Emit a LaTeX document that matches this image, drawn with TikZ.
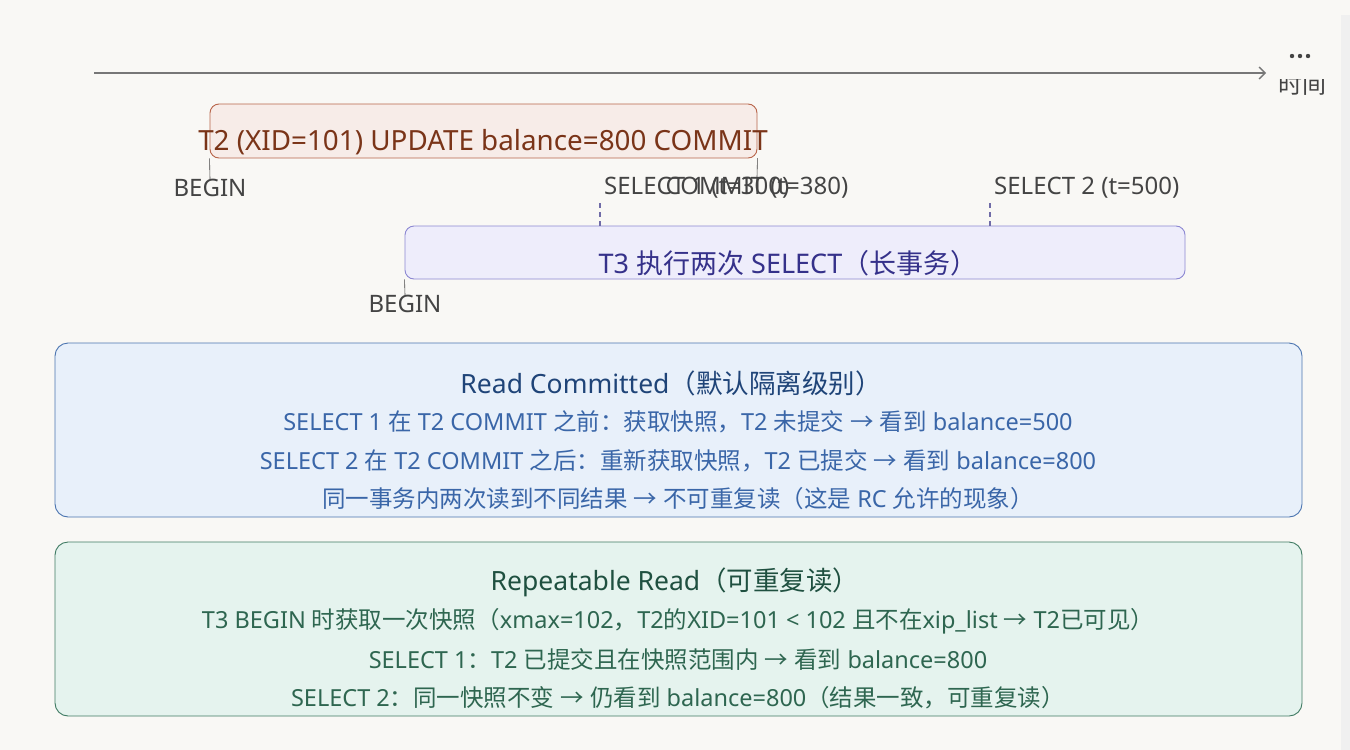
\documentclass[tikz,border=0pt]{standalone}
\usepackage{fontspec}
\setmainfont{Noto Sans}
\newfontfamily\cjkfont{Noto Sans CJK SC}
\usetikzlibrary{arrows.meta}

% CJK characters switch to the CJK face by themselves
\XeTeXinterchartokenstate=1
\newXeTeXintercharclass\CJKcls
\newcount\cjkcount
\cjkcount="4E00
\loop\XeTeXcharclass\cjkcount=\CJKcls\ifnum\cjkcount<"9FFF\advance\cjkcount by 1\repeat
\cjkcount="FF00
\loop\XeTeXcharclass\cjkcount=\CJKcls\ifnum\cjkcount<"FFEF\advance\cjkcount by 1\repeat
\XeTeXcharclass"2192=\CJKcls
\XeTeXinterchartoks 0 \CJKcls = {\begingroup\cjkfont}
\XeTeXinterchartoks 4095 \CJKcls = {\begingroup\cjkfont}
\XeTeXinterchartoks \CJKcls 0 = {\endgroup}
\XeTeXinterchartoks \CJKcls 4095 = {\endgroup}

\definecolor{paper}{HTML}{F9F8F5}
\definecolor{axisgray}{HTML}{777777}
\definecolor{labelgray}{HTML}{444444}
\definecolor{t2fill}{HTML}{F7ECE8}
\definecolor{t2draw}{HTML}{B8654A}
\definecolor{t2text}{HTML}{7A3418}
\definecolor{t3fill}{HTML}{EEEDFB}
\definecolor{t3draw}{HTML}{8C87D2}
\definecolor{t3text}{HTML}{35318A}
\definecolor{rcfill}{HTML}{E8F0FA}
\definecolor{rcdraw}{HTML}{4A74B0}
\definecolor{rchead}{HTML}{1F4478}
\definecolor{rctext}{HTML}{3A66A8}
\definecolor{rrfill}{HTML}{E5F3EE}
\definecolor{rrdraw}{HTML}{3F7A62}
\definecolor{rrhead}{HTML}{1F5040}
\definecolor{rrtext}{HTML}{2E6650}
\tikzset{
  txbox/.style={rectangle,rounded corners=9pt,line width=0.9pt,inner sep=0pt},
  levelbox/.style={rectangle,rounded corners=13pt,line width=0.9pt,inner sep=0pt,minimum width=1247pt,minimum height=174pt},
  stamp/.style={font=\fontsize{24}{28}\selectfont,text=labelgray,inner sep=0pt},
  tickline/.style={labelgray,line width=0.6pt},
  seltick/.style={t3draw!80!black,line width=1.2pt,dash pattern=on 5pt off 4pt},
  headline/.style={font=\fontsize{26.5}{30}\selectfont,inner sep=0pt},
  bodyline/.style={font=\fontsize{23.5}{28}\selectfont,inner sep=0pt},
}

\begin{document}
\begin{tikzpicture}[x=1pt,y=-1pt]
  \fill [paper] (0,0) rectangle (1350,750);
  \useasboundingbox (0,0) rectangle (1350,750);
  \fill [black!6] (1341,15) rectangle (1350,750);

  % time axis
  \coordinate (t0) at (94,73);
  \coordinate (t1) at (1266,73);
  \draw [axisgray,line width=1.3pt,-{Straight Barb[length=6pt,width=12pt,line width=1.3pt]}] (t0) -- (t1);
  \node [stamp] (time) at (1302,84) {时间};
  \fill [paper] (1272,40) rectangle (1334,79);
  \foreach \i in {-1,0,1}
    \fill [labelgray] (1300+\i*8,56) circle (2.2pt);

  % T2
  \node [txbox,fill=t2fill,draw=t2draw,minimum width=547pt,minimum height=54pt] (t2) at (483.5,131) {};
  \node [text=t2text,font=\fontsize{27.8}{32}\selectfont,inner sep=0pt] (t2lbl) at (483,142) {T2 (XID=101) UPDATE balance=800 COMMIT};
  \node [stamp] (b2) at (210,188) {BEGIN};
  \node [stamp] (c2) at (757,188) {COMMIT (t=380)};
  \draw [tickline] (t2.south west) -- (b2.north);
  \draw [tickline] (t2.south east) -- (c2.north);

  % T3
  \node [txbox,fill=t3fill,draw=t3draw,minimum width=780pt,minimum height=53pt] (t3) at (795,252.5) {};
  \node [text=t3text,font=\fontsize{27}{31}\selectfont,inner sep=0pt] (t3lbl) at (788,263) {T3 执行两次 SELECT（长事务）};
  \node [stamp] (b3) at (405,304) {BEGIN};
  \draw [tickline] (t3.south west) -- (b3.north);
  \node [stamp,anchor=west] (s1) at (604,188) {SELECT 1 (t=300)};
  \node [stamp,anchor=west] (s2) at (994,188) {SELECT 2 (t=500)};
  \coordinate (s1top) at (600,203);
  \coordinate (s2top) at (990,203);
  \draw [seltick] (s1top) -- (s1top |- t3.north);
  \draw [seltick] (s2top) -- (s2top |- t3.north);

  % Read Committed
  \node [levelbox,fill=rcfill,draw=rcdraw] (rc) at (678.5,430) {};
  \node [headline,text=rchead] (rchd) at (671,383) {Read Committed（默认隔离级别）};
  \node [bodyline,text=rctext] (rc1) at (678,422) {SELECT 1 在 T2 COMMIT 之前：获取快照，T2 未提交 → 看到 balance=500};
  \node [bodyline,text=rctext] (rc2) at (678,461) {SELECT 2 在 T2 COMMIT 之后：重新获取快照，T2 已提交 → 看到 balance=800};
  \node [bodyline,text=rctext] (rc3) at (678,499) {同一事务内两次读到不同结果 → 不可重复读（这是 RC 允许的现象）};

  % Repeatable Read
  \node [levelbox,fill=rrfill,draw=rrdraw] (rr) at (678.5,629) {};
  \node [headline,text=rrhead] (rrhd) at (675,582) {Repeatable Read（可重复读）};
  \node [bodyline,text=rrtext] (rr1) at (678,621) {T3 BEGIN 时获取一次快照（xmax=102，T2的XID=101 < 102 且不在xip\_list → T2已可见）};
  \node [bodyline,text=rrtext] (rr2) at (678,660) {SELECT 1：T2 已提交且在快照范围内 → 看到 balance=800};
  \node [bodyline,text=rrtext] (rr3) at (678,698) {SELECT 2：同一快照不变 → 仍看到 balance=800（结果一致，可重复读）};
\end{tikzpicture}
\end{document}
